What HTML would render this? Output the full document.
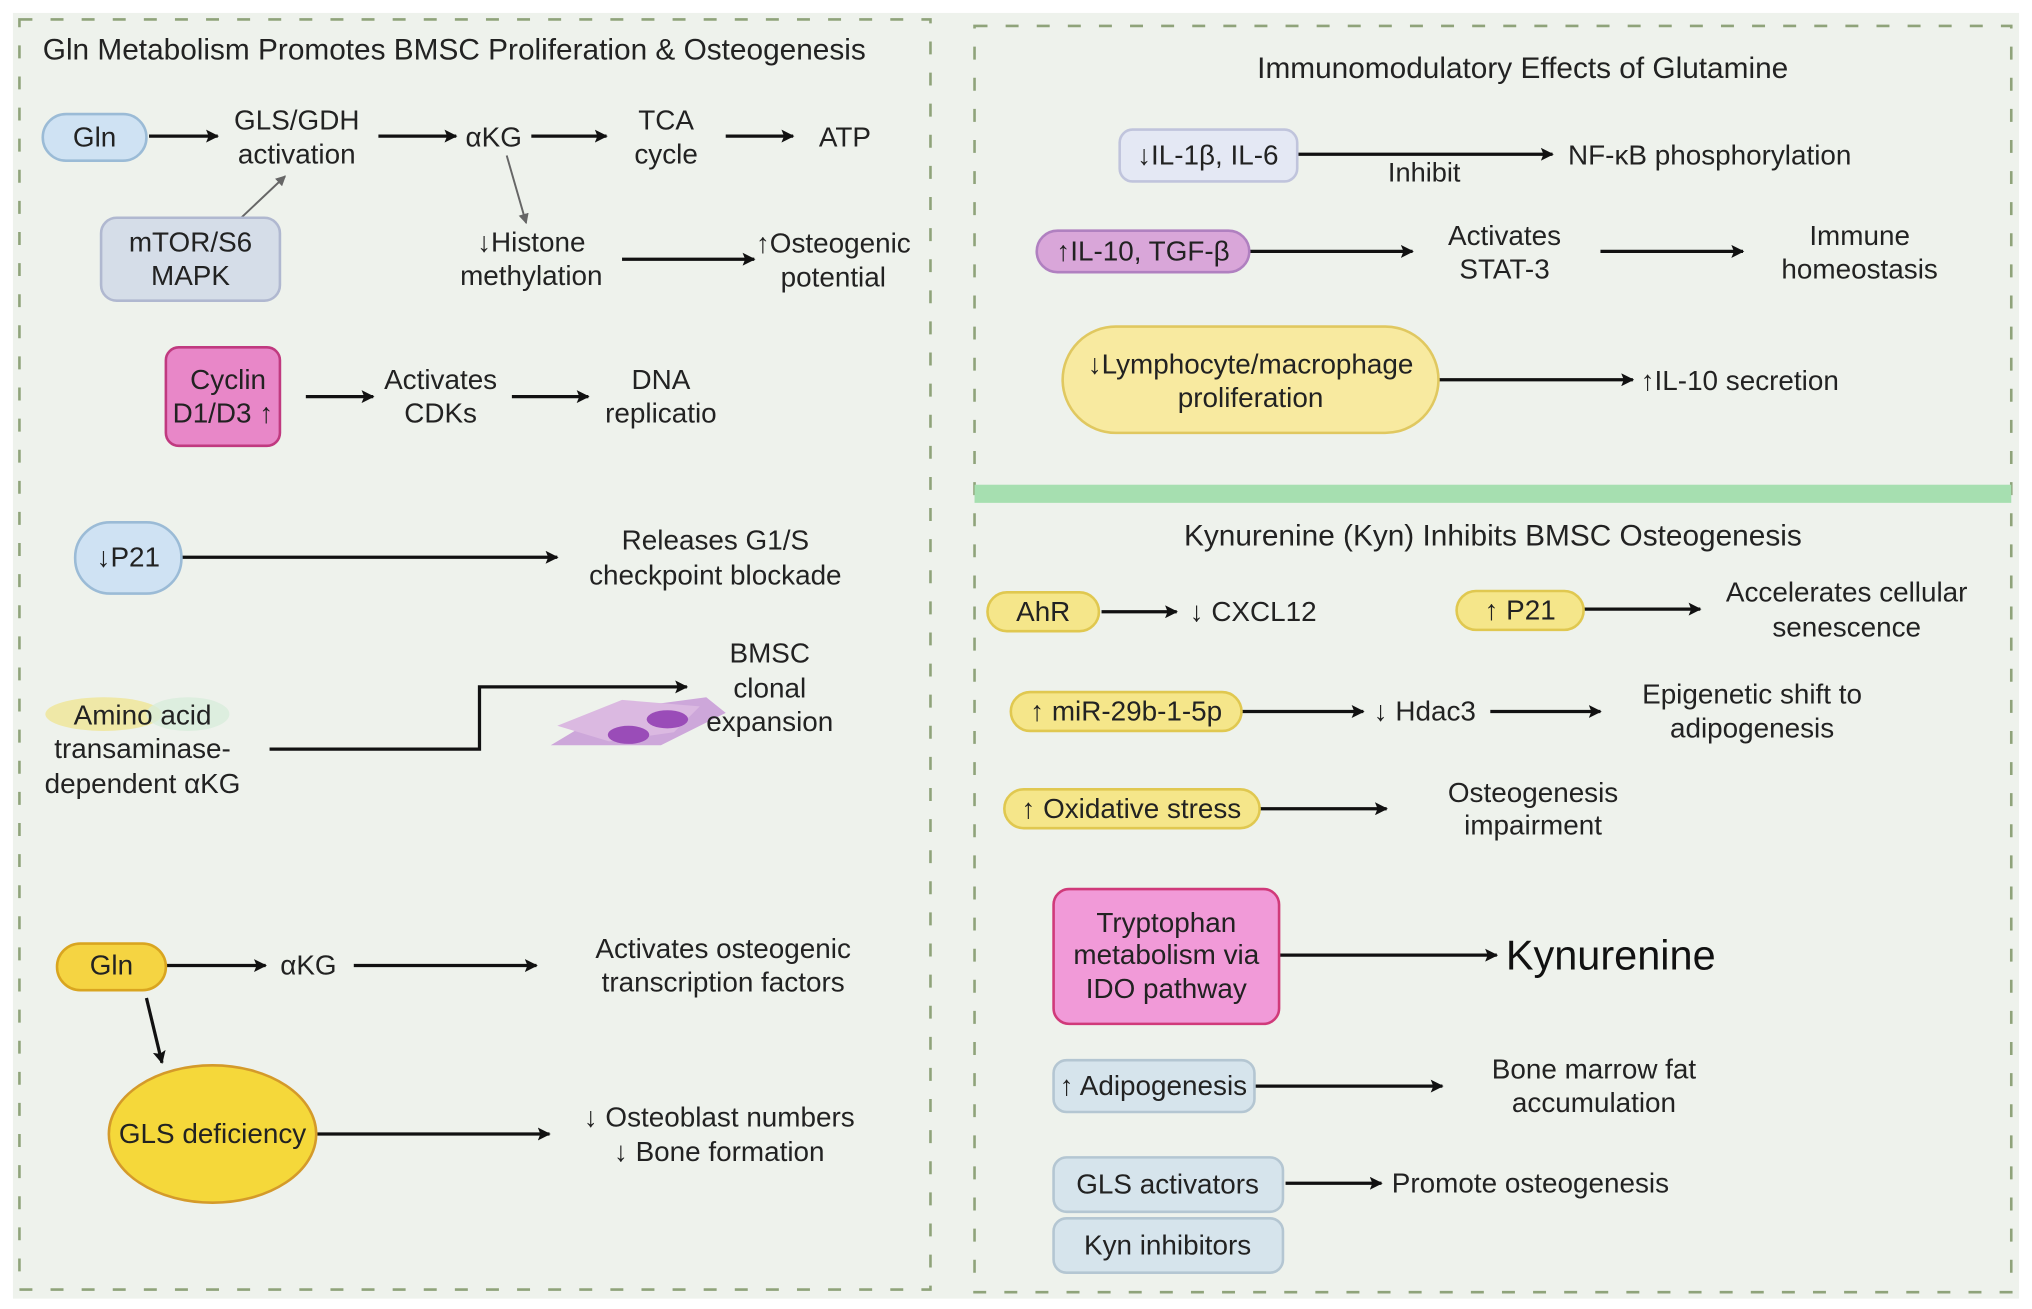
<!DOCTYPE html>
<html><head><meta charset="utf-8"><style>
html,body{margin:0;padding:0;background:#fff;}
svg{display:block;}
text{font-family:"Liberation Sans",Arial,sans-serif;fill:#222;font-size:21.5px;}
text.t{font-size:23px;}
text.k{font-size:32px;fill:#111;}
text.s{font-size:21px;}
</style></head><body>
<svg width="2032" height="1309" viewBox="0 0 1568 1010" preserveAspectRatio="none" xmlns="http://www.w3.org/2000/svg">
<defs>
<marker id="a" markerWidth="10" markerHeight="10" refX="9" refY="5" orient="auto" markerUnits="userSpaceOnUse"><path d="M0,0 L10,5 L0,10 L2,5 z" fill="#111"/></marker>
<marker id="g" markerWidth="8" markerHeight="8" refX="7" refY="4" orient="auto" markerUnits="userSpaceOnUse"><path d="M0,0 L8,4 L0,8 z" fill="#666"/></marker>
</defs>
<rect x="0" y="0" width="1568" height="1010" fill="#fff"/>
<rect x="10" y="10" width="1548" height="992" fill="#eef2ec"/>
<rect x="15" y="15" width="703" height="980" fill="none" stroke="#8fa37a" stroke-width="2" stroke-dasharray="10,14"/>
<rect x="752" y="20" width="800" height="977" fill="none" stroke="#8fa37a" stroke-width="2" stroke-dasharray="10,14"/>
<rect x="752" y="374" width="800" height="14" fill="#a6dfb0"/>

<g stroke="#111" stroke-width="2.5" fill="none" marker-end="url(#a)">
<line x1="115" y1="105" x2="168" y2="105"/>
<line x1="292" y1="105" x2="352" y2="105"/>
<line x1="410" y1="105" x2="468" y2="105"/>
<line x1="560" y1="105" x2="612" y2="105"/>
<line x1="480" y1="200" x2="582" y2="200"/>
<line x1="236" y1="306" x2="288" y2="306"/>
<line x1="395" y1="306" x2="454" y2="306"/>
<line x1="140" y1="430" x2="430" y2="430"/>
<polyline points="208,578 370,578 370,530 530,530"/>
<line x1="128" y1="745" x2="205" y2="745"/>
<line x1="273" y1="745" x2="414" y2="745"/>
<line x1="113" y1="770" x2="125" y2="820"/>
<line x1="245" y1="875" x2="424" y2="875"/>
<line x1="1001" y1="119" x2="1198" y2="119"/>
<line x1="964" y1="194" x2="1090" y2="194"/>
<line x1="1235" y1="194" x2="1345" y2="194"/>
<line x1="1110" y1="293" x2="1260" y2="293"/>
<line x1="850" y1="472" x2="908" y2="472"/>
<line x1="1222" y1="470" x2="1312" y2="470"/>
<line x1="958" y1="549" x2="1052" y2="549"/>
<line x1="1150" y1="549" x2="1235" y2="549"/>
<line x1="972" y1="624" x2="1070" y2="624"/>
<line x1="987" y1="737" x2="1155" y2="737"/>
<line x1="968" y1="838" x2="1113" y2="838"/>
<line x1="992" y1="913" x2="1066" y2="913"/>
</g>
<g stroke="#666" stroke-width="1.5" marker-end="url(#g)">
<line x1="184" y1="170" x2="220" y2="136"/>
<line x1="391" y1="120" x2="406" y2="172"/>
</g>

<text class="t" x="33" y="46">Gln Metabolism Promotes BMSC Proliferation &amp; Osteogenesis</text>
<rect x="33" y="88" width="80" height="36" rx="18" fill="#cfe2f3" stroke="#9bbbd6" stroke-width="2"/>
<g text-anchor="middle">
<text x="73" y="113">Gln</text>
<text x="229" y="100">GLS/GDH</text><text x="229" y="126">activation</text>
<text x="381" y="113">αKG</text>
<text x="514" y="100">TCA</text><text x="514" y="126">cycle</text>
<text x="652" y="113">ATP</text>
</g>
<rect x="78" y="168" width="138" height="64" rx="12" fill="#d5dde8" stroke="#b0b8d0" stroke-width="2"/>
<g text-anchor="middle">
<text x="147" y="194">mTOR/S6</text><text x="147" y="220">MAPK</text>
<text x="410" y="194">↓Histone</text><text x="410" y="220">methylation</text>
<text x="643" y="195">↑Osteogenic</text><text x="643" y="221">potential</text>
</g>
<rect x="128" y="268" width="88" height="76" rx="10" fill="#e887c8" stroke="#c03a80" stroke-width="2"/>
<g text-anchor="middle">
<text x="176" y="300">Cyclin</text><text x="172" y="326">D1/D3 ↑</text>
<text x="340" y="300">Activates</text><text x="340" y="326">CDKs</text>
<text x="510" y="300">DNA</text><text x="510" y="326">replicatio</text>
</g>
<rect x="58" y="403" width="82" height="55" rx="27" fill="#cfe2f3" stroke="#9bbbd6" stroke-width="2"/>
<g text-anchor="middle">
<text x="99" y="437">↓P21</text>
<text x="552" y="424">Releases G1/S</text><text x="552" y="451">checkpoint blockade</text>
</g>
<ellipse cx="80" cy="551" rx="45" ry="13" fill="#f0e48a" opacity="0.7"/>
<ellipse cx="145" cy="551" rx="32" ry="13" fill="#d8ecdc" opacity="0.8"/>
<g fill="#c89ad8" opacity="0.85">
<path d="M425,575 L470,548 L545,538 L560,550 L510,575 Z"/>
<path d="M430,560 L480,540 L540,545 L520,565 L470,572 Z" fill="#d8b0e0"/>
</g>
<ellipse cx="485" cy="567" rx="16" ry="7" fill="#9a4cb8"/>
<ellipse cx="515" cy="555" rx="16" ry="7" fill="#9a4cb8"/>
<g text-anchor="middle">
<text x="110" y="559">Amino acid</text><text x="110" y="585">transaminase-</text><text x="110" y="612">dependent αKG</text>
<text x="594" y="511">BMSC</text><text x="594" y="538">clonal</text><text x="594" y="564">expansion</text>
</g>
<rect x="44" y="728" width="84" height="36" rx="18" fill="#f5d442" stroke="#d9a520" stroke-width="2"/>
<ellipse cx="164" cy="875" rx="80" ry="53" fill="#f5d83a" stroke="#d49a2a" stroke-width="2"/>
<g text-anchor="middle">
<text x="86" y="752">Gln</text>
<text x="238" y="752">αKG</text>
<text x="558" y="739">Activates osteogenic</text><text x="558" y="765">transcription factors</text>
<text x="164" y="882">GLS deficiency</text>
<text x="555" y="869">↓ Osteoblast numbers</text><text x="555" y="896">↓ Bone formation</text>
</g>

<text class="t" x="1175" y="60" text-anchor="middle">Immunomodulatory Effects of Glutamine</text>
<rect x="864" y="100" width="137" height="40" rx="10" fill="#e4e8f4" stroke="#c0c4dc" stroke-width="2"/>
<rect x="800" y="178" width="164" height="32" rx="16" fill="#d9a6d9" stroke="#b080c0" stroke-width="2"/>
<rect x="820" y="252" width="290" height="82" rx="41" fill="#f8eaa0" stroke="#e0c860" stroke-width="2"/>
<g text-anchor="middle">
<text x="932" y="127">↓IL-1β, IL-6</text>
<text class="s" x="1099" y="140">Inhibit</text>
<text x="882" y="201">↑IL-10, TGF-β</text>
<text x="1161" y="189">Activates</text><text x="1161" y="215">STAT-3</text>
<text x="1435" y="189">Immune</text><text x="1435" y="215">homeostasis</text>
<text x="965" y="288">↓Lymphocyte/macrophage</text><text x="965" y="314">proliferation</text>
</g>
<text x="1210" y="127">NF-κB phosphorylation</text>
<text x="1266" y="301">↑IL-10 secretion</text>

<text class="t" x="1152" y="421" text-anchor="middle">Kynurenine (Kyn) Inhibits BMSC Osteogenesis</text>
<g fill="#f5e68a" stroke="#e0c850" stroke-width="2">
<rect x="762" y="457" width="86" height="30" rx="15"/>
<rect x="1124" y="456" width="98" height="30" rx="15"/>
<rect x="780" y="534" width="178" height="30" rx="15"/>
<rect x="775" y="609" width="197" height="30" rx="15"/>
</g>
<rect x="813" y="686" width="174" height="104" rx="12" fill="#f19ad8" stroke="#d03a7a" stroke-width="2"/>
<g fill="#d6e4ec" stroke="#b4c6d2" stroke-width="2">
<rect x="813" y="818" width="155" height="40" rx="10"/>
<rect x="813" y="893" width="177" height="42" rx="10"/>
<rect x="813" y="940" width="177" height="42" rx="10"/>
</g>
<g text-anchor="middle">
<text x="805" y="479">AhR</text>
<text x="1173" y="478">↑ P21</text>
<text x="1425" y="464">Accelerates cellular</text><text x="1425" y="491">senescence</text>
<text x="869" y="556">↑ miR-29b-1-5p</text>
<text x="1352" y="543">Epigenetic shift to</text><text x="1352" y="569">adipogenesis</text>
<text x="873" y="631">↑ Oxidative stress</text>
<text x="1183" y="619">Osteogenesis</text><text x="1183" y="644">impairment</text>
<text x="900" y="719">Tryptophan</text><text x="900" y="744">metabolism via</text><text x="900" y="770">IDO pathway</text>
<text x="890" y="845">↑ Adipogenesis</text>
<text x="1230" y="832">Bone marrow fat</text><text x="1230" y="858">accumulation</text>
<text x="901" y="921">GLS activators</text>
<text x="901" y="968">Kyn inhibitors</text>
</g>
<text x="918" y="479">↓ CXCL12</text>
<text x="1060" y="556">↓ Hdac3</text>
<text class="k" x="1162" y="748">Kynurenine</text>
<text x="1074" y="920">Promote osteogenesis</text>
</svg>
</body></html>
